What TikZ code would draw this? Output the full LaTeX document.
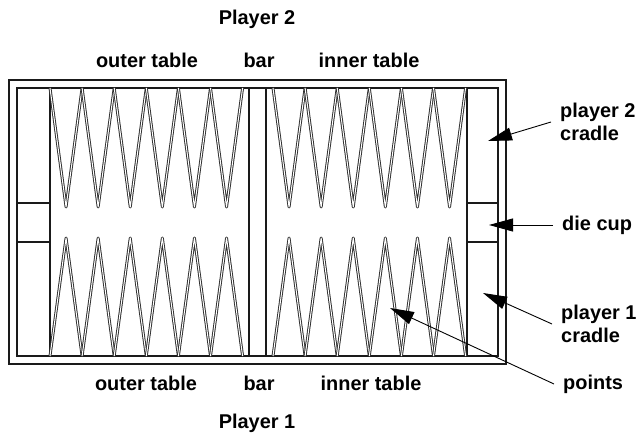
\documentclass[tikz,border=0pt]{standalone}
\usepackage{fontspec}
\setmainfont{Liberation Sans}
\usetikzlibrary{arrows.meta,positioning}
\definecolor{bdark}{HTML}{1A1A1A}
\definecolor{bpoint}{HTML}{2E2E2E}

\begin{document}
\begin{tikzpicture}[x=1bp, y=-1bp,
    board/.style={draw=bdark, line width=1.5bp},
    point/.style={draw=bpoint, line width=0.95bp, double=white, double distance=1bp, line join=round},
    lbl/.style={font=\bfseries\fontsize{20}{23}\selectfont, inner sep=2bp},
    side/.style={lbl, anchor=west, align=left, inner xsep=9bp},
    pointer/.style={draw=black, line width=0.9bp, -{Triangle[length=24bp, width=13bp]}}
]
    \useasboundingbox (0,0) rectangle (643,437);

    % Board frame
    \draw[board] (9,80) rectangle (506,364);
    \draw[board] (17,88) rectangle (498,356);

    % Cradles, die cups and bar
    \draw[board] (50,88) -- (50,356);
    \draw[board] (467,88) -- (467,356);
    \draw[board] (249,88) -- (249,356);
    \draw[board] (266,88) -- (266,356);
    \draw[board] (17,203) -- (50,203);
    \draw[board] (17,242) -- (50,242);
    \draw[board] (467,203) -- (498,203);
    \draw[board] (467,242) -- (498,242);

    % Points
    \foreach \s in {50,273} {
        \foreach \i in {0,...,5} {
            \draw[point] (\s+\i*32.1,88) -- (\s+\i*32.1+16.05,207) -- (\s+\i*32.1+32.1,88);
            \draw[point] (\s+\i*32.1,356) -- (\s+\i*32.1+16.05,238) -- (\s+\i*32.1+32.1,356);
        }
    }

    % Table labels
    \node[lbl] (player2) at (257,19) {Player 2};
    \node[lbl] (outertop) at (147,60) {outer table};
    \node[lbl] (bartop) at (259,60) {bar};
    \node[lbl] (innertop) at (369,60) {inner table};
    \node[lbl] (outerbot) at (146,383) {outer table};
    \node[lbl] (barbot) at (259,383) {bar};
    \node[lbl] (innerbot) at (371,383) {inner table};
    \node[lbl] (player1) at (257,423) {Player 1};

    % Side labels
    \node[side] (cradle2) at (551,122) {player 2\\cradle};
    \node[side] (cup) at (553,225) {die cup};
    \node[side] (cradle1) at (552,324) {player 1\\cradle};
    \node[side] (points) at (554,384) {points};

    \coordinate (cradle2tip) at (488,141);
    \coordinate (cuptip) at (489,225);
    \coordinate (cradle1tip) at (483,293);
    \coordinate (pointstip) at (390,308);

    % Pointers
    \draw[pointer] (cradle2.west) -- (cradle2tip);
    \draw[pointer] (cup.west) -- (cuptip);
    \draw[pointer] (cradle1.west) -- (cradle1tip);
    \draw[pointer] (points.west) -- (pointstip);

\end{tikzpicture}
\end{document}
